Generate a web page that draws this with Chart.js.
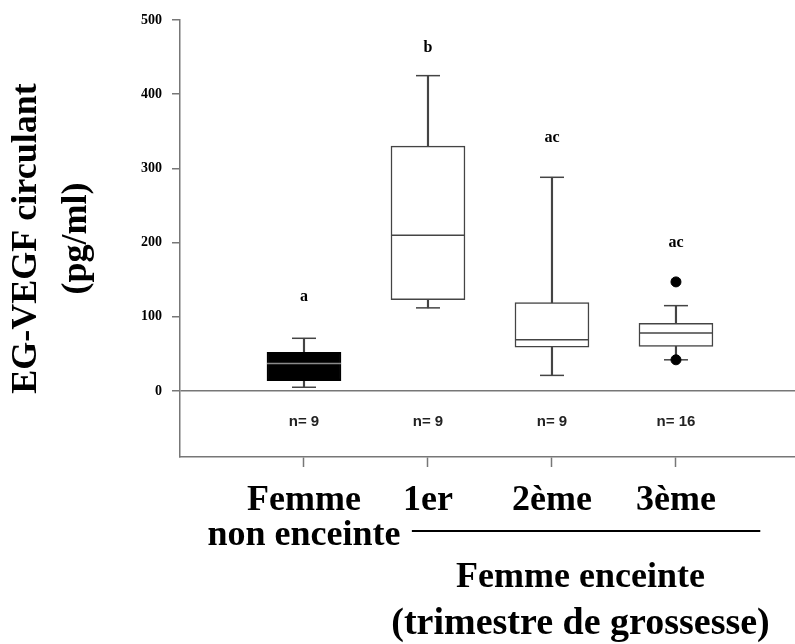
<!DOCTYPE html>
<html>
<head>
<meta charset="utf-8">
<script src="https://cdn.jsdelivr.net/npm/chart.js@4.4.1/dist/chart.umd.min.js"></script>
<style>
  html, body { margin: 0; padding: 0; background: #fff; }
  #wrap { width: 795px; height: 644px; position: relative; }
</style>
</head>
<body>
<div id="wrap"><canvas id="boxChart"></canvas></div>
<script>
// groups on the x axis
const groups = [['Femme', 'non enceinte'], '1er', '2ème', '3ème'];
const yTicks = [0, 100, 200, 300, 400, 500];

// box plot values (pg/ml)
const whiskerLow  = [5, 112, 21, 42];
const quart1      = [14, 123, 59, 60];
const medians     = [37, 210, 69, 78];
const quart3      = [52, 330, 119, 91];
const whiskerHigh = [71, 425, 288, 115];

// outliers: group number + value
const outlierGroup = [4, 4];
const outlierValue = [147, 42];

// letters above the boxes and sample sizes
const sigLetters = ['a', 'b', 'ac', 'ac'];
const sigLevel   = [127, 462, 341, 199];
const sampleN    = ['n= 9', 'n= 9', 'n= 9', 'n= 16'];
const nLevel = -42;

const serif = '"Liberation Serif", "Times New Roman", serif';
const axisGrey = '#777';
const boxLine = '#444';

// text that is not tied to an axis tick
const annotate = {
  id: 'annotate',
  afterDraw(chart) {
    const {ctx, chartArea} = chart;
    const x = chart.scales.x, y = chart.scales.y;
    ctx.save();
    ctx.textAlign = 'center';
    ctx.textBaseline = 'middle';
    ctx.fillStyle = '#000';
    ctx.font = 'bold 16px ' + serif;
    sigLetters.forEach((t, i) => {
      ctx.fillText(t, x.getPixelForValue(i + 1), y.getPixelForValue(sigLevel[i]));
    });
    ctx.font = 'bold 15px "Liberation Sans", Arial, sans-serif';
    ctx.fillStyle = '#222';
    sampleN.forEach((t, i) => {
      ctx.fillText(t, x.getPixelForValue(i + 1), y.getPixelForValue(nLevel));
    });

    // bracket under the three trimesters
    const b = chartArea.bottom;
    ctx.strokeStyle = '#000';
    ctx.lineWidth = 2;
    ctx.beginPath();
    ctx.moveTo(x.getPixelForValue(1.87), b + 74);
    ctx.lineTo(x.getPixelForValue(4.68), b + 74);
    ctx.stroke();

    ctx.fillStyle = '#000';
    ctx.textBaseline = 'alphabetic';
    const cx = x.getPixelForValue(3.23);
    ctx.font = 'bold 36px ' + serif;
    ctx.fillText('Femme enceinte', cx, b + 130);
    ctx.font = 'bold 38px ' + serif;
    ctx.fillText('(trimestre de grossesse)', cx, b + 177);
    ctx.restore();
  }
};

const capPoints = [];
whiskerLow.forEach((w, i) => {
  capPoints.push({x: i + 1, y: w});
  capPoints.push({x: i + 1, y: whiskerHigh[i]});
});

new Chart(document.getElementById('boxChart'), {
  type: 'bar',
  data: {
    datasets: [
      {
        type: 'scatter',
        label: 'outliers',
        data: outlierGroup.map((g, i) => ({x: g, y: outlierValue[i]})),
        pointRadius: 5,
        pointBackgroundColor: '#000',
        pointBorderColor: '#000',
        order: 0
      },
      {
        type: 'scatter',
        label: 'median',
        data: medians.map((m, i) => ({x: i + 1, y: m})),
        pointStyle: 'line',
        pointRadius: 37,
        pointBorderColor: ['#8a8a8a', boxLine, boxLine, boxLine],
        pointBorderWidth: 1.5,
        order: 1
      },
      {
        label: 'IQR',
        data: quart1.map((q, i) => ({x: i + 1, y: [q, quart3[i]]})),
        backgroundColor: ['#000', '#fff', '#fff', '#fff'],
        borderColor: ['#000', boxLine, boxLine, boxLine],
        borderWidth: 1.5,
        borderSkipped: false,
        barThickness: 74,
        grouped: false,
        order: 2
      },
      {
        type: 'scatter',
        label: 'caps',
        data: capPoints,
        pointStyle: 'line',
        pointRadius: 12,
        pointBorderColor: boxLine,
        pointBorderWidth: 1.5,
        order: 3
      },
      {
        label: 'whiskers',
        data: whiskerLow.map((w, i) => ({x: i + 1, y: [w, whiskerHigh[i]]})),
        backgroundColor: boxLine,
        borderWidth: 0,
        barThickness: 1.5,
        grouped: false,
        order: 4
      }
    ]
  },
  options: {
    responsive: true,
    maintainAspectRatio: false,
    animation: false,
    layout: { autoPadding: false, padding: { top: 20, right: 0, bottom: 0, left: 0 } },
    plugins: {
      legend: { display: false },
      tooltip: { enabled: false }
    },
    scales: {
      x: {
        type: 'linear',
        min: 0,
        max: 4.96,
        offset: false,
        afterBuildTicks: s => { s.ticks = groups.map((g, i) => ({value: i + 1})); },
        afterFit: s => {
          s.height = 187;
          s.paddingLeft = 0; s.paddingRight = 0;
        },
        ticks: {
          autoSkip: false,
          maxRotation: 0,
          minRotation: 0,
          padding: 16,
          color: '#000',
          font: { family: serif, size: 36, weight: 'bold', lineHeight: 0.97 },
          callback: v => groups[v - 1]
        },
        grid: { drawOnChartArea: false, offset: false, tickLength: 10, tickColor: axisGrey, tickWidth: 1.5 },
        border: { color: axisGrey, width: 1.5 }
      },
      y: {
        min: -89,
        max: 500,
        afterBuildTicks: s => { s.ticks = yTicks.map(v => ({value: v})); },
        afterFit: s => {
          s.width = 180;
          s.paddingTop = 0; s.paddingBottom = 0;
        },
        ticks: {
          padding: 10,
          color: '#000',
          font: { family: serif, size: 14, weight: 'bold' }
        },
        grid: {
          color: c => (c.tick && c.tick.value === 0) ? axisGrey : 'rgba(0,0,0,0)',
          lineWidth: 1.5,
          tickLength: 8,
          tickColor: axisGrey,
          tickWidth: 1.5
        },
        border: { color: axisGrey, width: 1.5 },
        title: {
          display: true,
          text: ['EG-VEGF circulant', '(pg/ml)'],
          color: '#000',
          font: { family: serif, size: 36, weight: 'bold', lineHeight: 1.38 },
          padding: { top: 2, bottom: 0 }
        }
      }
    }
  },
  plugins: [annotate]
});
</script>
</body>
</html>
